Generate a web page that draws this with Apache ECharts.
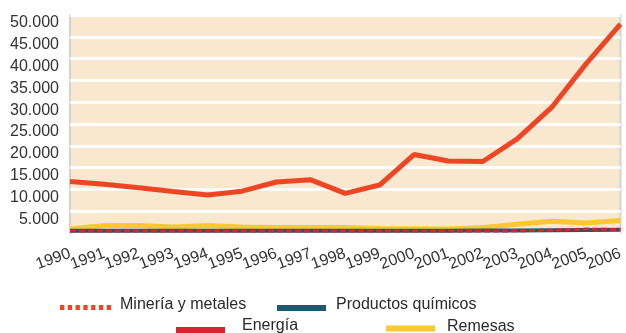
<!DOCTYPE html>
<html>
<head>
<meta charset="utf-8">
<script src="https://cdn.jsdelivr.net/npm/echarts@6/dist/echarts.min.js"></script>
<style>
  html, body { margin: 0; padding: 0; background: #ffffff; }
  #chart { width: 626px; height: 333px; }
</style>
</head>
<body>
<div id="chart"></div>
<script>
// Años del eje horizontal
const years = ['1990','1991','1992','1993','1994','1995','1996','1997','1998',
               '1999','2000','2001','2002','2003','2004','2005','2006'];

// Valores por serie
const mineria = [11800, 11200, 10400, 9500, 8700, 9600, 11700, 12200, 9100,
                 11000, 18000, 16500, 16400, 21600, 28800, 38800, 47900];
const quimicos = [500, 500, 500, 500, 500, 500, 500, 500, 500,
                  500, 500, 500, 550, 600, 650, 700, 750];
const energia = [450, 450, 450, 450, 450, 450, 450, 450, 450,
                 450, 450, 450, 450, 500, 650, 900, 800];
const remesas = [900, 1700, 1700, 1400, 1700, 1400, 1250, 1250, 1250,
                 1050, 1000, 900, 1250, 2000, 2700, 2300, 2850];

// Marcas del eje vertical
const yTicks = [0, 5000, 10000, 15000, 20000, 25000, 30000, 35000, 40000, 45000, 50000];

const FONT = "'Liberation Sans', Arial, Helvetica, sans-serif";
const C_MIN = '#ee4524';
const C_QUI = '#1d5a72';
const C_ENE = '#d9222f';
const C_REM = '#fbc830';

// Icono punteado para la leyenda de minería
function dottedPath(n, w, step, h) {
  let p = 'path://';
  for (let i = 0; i < n; i++) {
    const x = (i * step).toFixed(2);
    p += 'M' + x + ',0h' + w + 'v' + h + 'h-' + w + 'z';
  }
  return p;
}

function fmt(v) {
  return String(v).replace(/\B(?=(\d{3})+(?!\d))/g, '.');
}

// Texto de leyenda: separación a la izquierda y ligero ajuste vertical
const legendText = (padLeft, padBottom) => ({
  fontFamily: FONT, fontSize: 16, color: '#2a2a2a',
  rich: {
    t: {
      fontFamily: FONT, fontSize: 16, color: '#2a2a2a', lineHeight: 18,
      padding: [0, 0, padBottom, padLeft]
    }
  }
});
const legendFmt = name => '{t|' + name + '}';

const chart = echarts.init(document.getElementById('chart'));
chart.setOption({
  animation: false,
  backgroundColor: '#ffffff',
  grid: {
    left: 70, right: 2, top: 15, bottom: 100,
    show: true, backgroundColor: '#f8e8cf',
    borderColor: '#d2d2d2', borderWidth: 2
  },
  legend: [
    { data: [{ name: 'Minería y metales', icon: dottedPath(7, 4.3, 7.8, 5) }],
      left: 60, top: 296.5, padding: 0, itemWidth: 51, itemHeight: 5,
      formatter: legendFmt, textStyle: legendText(4, 6) },
    { data: [{ name: 'Productos químicos', icon: 'rect' }],
      left: 277, top: 297, padding: 0, itemWidth: 49, itemHeight: 6,
      formatter: legendFmt, textStyle: legendText(5, 6) },
    { data: [{ name: 'Energía', icon: 'rect' }],
      left: 176, top: 317.5, padding: 0, itemWidth: 49, itemHeight: 6,
      formatter: legendFmt, textStyle: legendText(12, 9) },
    { data: [{ name: 'Remesas', icon: 'rect' }],
      left: 386, top: 318.5, padding: 0, itemWidth: 49, itemHeight: 6,
      formatter: legendFmt, textStyle: legendText(7, 4) }
  ],
  xAxis: {
    type: 'category',
    data: years,
    boundaryGap: false,
    axisLine: { show: false },
    axisTick: { show: false },
    axisLabel: {
      interval: 0, rotate: 20, margin: 20,
      fontFamily: FONT, fontSize: 16, color: '#333333'
    },
    splitLine: { show: false }
  },
  yAxis: {
    type: 'value',
    min: yTicks[0], max: yTicks[yTicks.length - 1], interval: yTicks[1] - yTicks[0],
    axisLine: { show: false },
    axisTick: { show: false },
    axisLabel: {
      showMinLabel: false, margin: 11,
      fontFamily: FONT, fontSize: 16, color: '#333333',
      verticalAlign: 'top', lineHeight: 16,
      formatter: fmt
    },
    splitLine: { show: true, lineStyle: { color: '#ffffff', width: 3 } }
  },
  series: [
    { name: 'Remesas', type: 'line', data: remesas, showSymbol: false,
      color: C_REM, lineStyle: { color: C_REM, width: 5 }, z: 2 },
    { name: 'Productos químicos', type: 'line', data: quimicos, showSymbol: false,
      color: C_QUI, lineStyle: { color: C_QUI, width: 4 }, z: 3 },
    { name: 'Energía', type: 'line', data: energia, showSymbol: false,
      color: C_ENE, lineStyle: { color: C_ENE, width: 3, type: [6, 3] }, z: 4 },
    { name: 'Minería y metales', type: 'line', data: mineria, showSymbol: false,
      color: C_MIN, lineStyle: { color: C_MIN, width: 5 }, z: 5 }
  ]
});
</script>
</body>
</html>
